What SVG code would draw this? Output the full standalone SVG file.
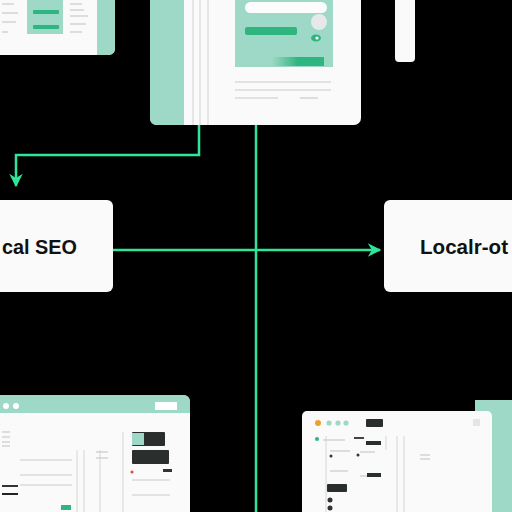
<svg xmlns="http://www.w3.org/2000/svg" width="512" height="512" viewBox="0 0 512 512">
<defs>
<style>
.card{fill:#f9faf9}
.mint{fill:#9ed8c6}
.green{fill:#2fb57f}
.line{stroke:#2ee59a;stroke-width:2.5;fill:none}
.gl{stroke:#d4d8d6;stroke-width:1}
.tl{stroke:#c9cccb;stroke-width:1.2}
.lbl{font-family:"Liberation Sans",Arial,sans-serif;font-weight:bold;font-size:21px;fill:#111}
.dark{fill:#2a2e2d}
</style>
<linearGradient id="gb" x1="0" x2="1" y1="0" y2="0">
<stop offset="0" stop-color="#9ed8c6"/><stop offset="0.5" stop-color="#2fb57f"/><stop offset="1" stop-color="#2fb57f"/>
</linearGradient>
<marker id="arr" viewBox="0 0 12 12" refX="10" refY="6" markerWidth="6.5" markerHeight="6.5" orient="auto" markerUnits="strokeWidth">
<path d="M1,1 L11,6 L1,11 L4,6 Z" fill="#2ee59a"/>
</marker>
</defs>
<rect width="512" height="512" fill="#000"/>

<g id="card-topleft">
<path class="card" d="M-5,-5 H115 V48 Q115,55 108,55 H-5 Z"/>
<rect class="mint" x="27" y="-5" width="36" height="39"/>
<rect class="green" x="33" y="10" width="26" height="4" rx="1"/>
<rect class="green" x="33" y="25" width="26" height="4" rx="1"/>
<path class="mint" d="M97,-5 H115 V48 Q115,55 108,55 H97 Z"/>
<g class="tl"><line x1="2" y1="4" x2="14" y2="4"/><line x1="2" y1="13" x2="18" y2="13"/><line x1="2" y1="22" x2="16" y2="22"/><line x1="2" y1="32" x2="8" y2="32"/>
<line x1="70" y1="4" x2="82" y2="4"/><line x1="70" y1="10" x2="84" y2="10"/><line x1="70" y1="16" x2="88" y2="16"/><line x1="70" y1="24" x2="86" y2="24"/><line x1="70" y1="32" x2="82" y2="32"/></g>
</g>

<g id="card-topcenter">
<rect class="card" x="150" y="-10" width="211" height="135" rx="7"/>
<path class="mint" d="M150,-10 H184 V125 H157 Q150,125 150,118 Z"/>
<g stroke="#d6dad8" stroke-width="1.2"><line x1="193" y1="0" x2="193" y2="125"/><line x1="200" y1="0" x2="200" y2="125"/><line x1="208" y1="0" x2="208" y2="125"/></g>
<rect class="mint" x="235" y="-5" width="98" height="72"/>
<rect x="245" y="2" width="82" height="11" rx="5.5" fill="#fbfcfb"/>
<circle cx="319" cy="22" r="8" fill="#e6e9e8"/>
<rect class="green" x="245" y="27" width="52" height="8" rx="2"/>
<ellipse cx="316" cy="38" rx="5" ry="3.5" fill="#2fb57f"/>
<circle cx="317" cy="38" r="1.6" fill="#fff"/>
<rect x="272" y="57" width="52" height="9" fill="url(#gb)"/>
<g class="tl"><line x1="235" y1="82" x2="331" y2="82"/><line x1="235" y1="90" x2="331" y2="90"/><line x1="235" y1="98" x2="278" y2="98"/><line x1="300" y1="98" x2="318" y2="98"/></g>
</g>

<g id="bar-topright">
<rect x="395" y="-10" width="20" height="72" rx="4" fill="#f9faf9"/>
</g>

<g id="node-left">
<rect class="card" x="-10" y="200" width="123" height="92" rx="6"/>
<text class="lbl" x="2" y="254" textLength="75" lengthAdjust="spacingAndGlyphs">cal SEO</text>
</g>

<g id="node-right">
<rect class="card" x="384" y="200" width="140" height="92" rx="6"/>
<text class="lbl" x="420" y="254" textLength="88" lengthAdjust="spacingAndGlyphs">Localr-ot</text>
</g>

<g id="card-bottomleft">
<rect class="card" x="-10" y="395" width="200" height="130" rx="7"/>
<path class="mint" d="M-10,395 H183 Q190,395 190,402 V413 H-10 Z"/>
<circle cx="6" cy="406" r="3" fill="#fff"/><circle cx="16" cy="406" r="3" fill="#fff"/>
<rect x="155" y="402" width="22" height="8" fill="#fff"/>
<g class="gl"><line x1="77" y1="450" x2="77" y2="512"/><line x1="84" y1="450" x2="84" y2="512"/><line x1="100" y1="450" x2="100" y2="512"/><line x1="123" y1="432" x2="123" y2="512"/></g>
<rect class="dark" x="132" y="432" width="33" height="14" rx="1"/>
<rect class="mint" x="132" y="433" width="12" height="12"/>
<rect class="dark" x="132" y="450" width="37" height="14" rx="1"/>
<circle cx="132" cy="472" r="1.5" fill="#e0443c"/>
<rect x="163" y="469" width="9" height="3" fill="#333"/>
<rect class="green" x="61" y="505" width="10" height="5"/>
<g class="tl"><line x1="2" y1="432" x2="10" y2="432"/><line x1="2" y1="437" x2="10" y2="437"/><line x1="2" y1="442" x2="10" y2="442"/><line x1="2" y1="446" x2="10" y2="446"/>
<line x1="20" y1="460" x2="72" y2="460"/><line x1="20" y1="475" x2="72" y2="475"/><line x1="20" y1="485" x2="72" y2="485"/><line x1="96" y1="452" x2="108" y2="452"/><line x1="96" y1="458" x2="108" y2="458"/><line x1="132" y1="480" x2="170" y2="480"/><line x1="132" y1="495" x2="170" y2="495"/></g>
<rect x="2" y="485" width="16" height="2" fill="#333"/>
<rect x="2" y="493" width="16" height="2" fill="#222"/>
</g>

<g id="card-bottomright">
<rect class="mint" x="475" y="400" width="45" height="120"/>
<rect class="card" x="302" y="411" width="190" height="110" rx="5"/>
<circle cx="318" cy="423" r="3" fill="#f0a030"/>
<circle cx="329" cy="423" r="2.6" class="mint"/><circle cx="338" cy="423" r="2.6" class="mint"/><circle cx="346" cy="423" r="2.6" class="mint"/>
<rect class="dark" x="366" y="419" width="17" height="8" rx="1"/>
<rect x="473" y="419" width="7" height="7" fill="#e3e6e5"/>
<circle cx="317" cy="439" r="2" class="green"/>
<rect class="dark" x="366" y="441" width="15" height="4"/>
<rect x="354" y="437" width="10" height="2" fill="#444"/>
<g class="gl"><line x1="326" y1="436" x2="326" y2="512"/><line x1="397" y1="436" x2="397" y2="512"/><line x1="404" y1="436" x2="404" y2="512"/><line x1="386" y1="436" x2="386" y2="450"/></g>
<g class="tl"><line x1="323" y1="440" x2="345" y2="440"/><line x1="330" y1="451" x2="350" y2="451"/><line x1="330" y1="471" x2="348" y2="471"/><line x1="360" y1="452" x2="375" y2="452"/><line x1="360" y1="476" x2="375" y2="476"/><line x1="420" y1="455" x2="430" y2="455"/><line x1="420" y1="459" x2="430" y2="459"/></g>
<rect class="dark" x="367" y="473" width="14" height="4"/>
<rect class="dark" x="327" y="484" width="20" height="8" rx="1"/>
<circle cx="330" cy="500" r="2.5" fill="#333"/><circle cx="330" cy="508" r="2.5" fill="#333"/>
<circle cx="331" cy="456" r="1.5" fill="#333"/><circle cx="358" cy="455" r="1.5" fill="#333"/>
</g>

<g id="connectors">
<polyline class="line" points="199,125 199,155 16,155 16,186" marker-end="url(#arr)"/>
<line class="line" x1="256" y1="125" x2="256" y2="512"/>
<line class="line" x1="113" y1="250" x2="380" y2="250" marker-end="url(#arr)"/>
</g>
</svg>
